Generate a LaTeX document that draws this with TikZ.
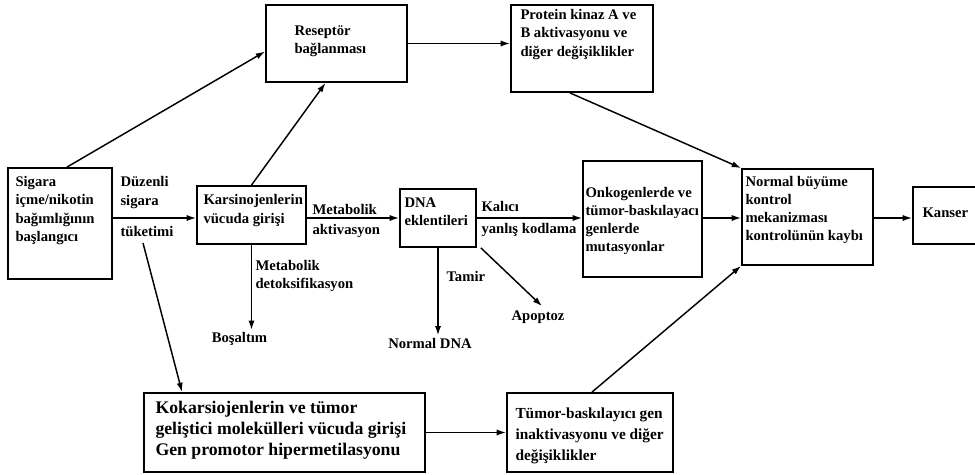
\documentclass[tikz,border=0pt]{standalone}
\usepackage{fontspec}
\setmainfont{Liberation Serif}
\usetikzlibrary{arrows.meta}

\tikzset{every picture/.style={line width=0.75pt}}
\tikzset{
  box/.style={draw, line width=1.4pt, inner sep=0pt},
  txt/.style={inner sep=0pt, align=left, font=\bfseries\fontsize{11pt}{13.6pt}\selectfont},
  bigtxt/.style={inner sep=0pt, align=left, font=\bfseries\fontsize{13.3pt}{15.6pt}\selectfont},
  midtxt/.style={inner sep=0pt, align=left, font=\bfseries\fontsize{11.5pt}{15.8pt}\selectfont},
  arr/.style={line width=1.1pt, -{Latex[length=7pt,width=4.6pt]}}
}

\begin{document}
\begin{tikzpicture}[x=0.75pt,y=0.75pt,yscale=-1,xscale=1]
\useasboundingbox (0,0) rectangle (975,475);

%Shape: Rectangle
\node [box, minimum width=78pt, minimum height=83.25pt] (sig) at (60,223.5) {};
%Shape: Rectangle
\node [box, minimum width=105.75pt, minimum height=57.75pt] (resep) at (336.5,43.5) {};
%Shape: Rectangle
\node [box, minimum width=106.5pt, minimum height=65.25pt] (prot) at (582,48.5) {};
%Shape: Rectangle
\node [box, minimum width=81.75pt, minimum height=43.5pt] (kars) at (251.5,215) {};
%Shape: Rectangle
\node [box, minimum width=57pt, minimum height=43.5pt] (dna) at (438,218) {};
%Shape: Rectangle
\node [box, minimum width=89.25pt, minimum height=87pt] (onk) at (642.5,219) {};
%Shape: Rectangle
\node [box, minimum width=98.25pt, minimum height=72pt] (norm) at (807.5,217) {};
%Shape: Rectangle
\node [box, minimum width=52.5pt, minimum height=42.75pt] (kan) at (948,215.5) {};
%Shape: Rectangle
\node [box, minimum width=210.75pt, minimum height=59.25pt] (koka) at (284.5,432.5) {};
%Shape: Rectangle
\node [box, minimum width=124.5pt, minimum height=59.25pt] (tum) at (590,432.5) {};

% Text Node
\node [txt, anchor=west] (sigT) at (15,210.5) {Sigara\\içme/nikotin\\bağımlığının\\başlangıcı};
% Text Node
\node [txt, anchor=west] (duz) at (120,192.5) {Düzenli\\sigara};
% Text Node
\node [txt, anchor=west] (tuk) at (120,231) {tüketimi};
% Text Node
\node [txt, anchor=west] (karsT) at (203,210.5) {Karsinojenlerin\\vücuda girişi};
% Text Node
\node [txt, anchor=west] (metA) at (312,209) {Metabolik};
% Text Node
\node [txt, anchor=west] (metB) at (312,231) {aktivasyon};
% Text Node
\node [txt, anchor=west] (dnaT) at (404,212) {DNA\\eklentileri};
% Text Node
\node [txt, anchor=west] (kal) at (481,206) {Kalıcı};
% Text Node
\node [txt, anchor=west] (yan) at (481,230) {yanlış kodlama};
% Text Node
\node [txt, anchor=west] (onkT) at (585,221) {Onkogenlerde ve\\tümor-baskılayacı\\genlerde\\mutasyonlar};
% Text Node
\node [txt, anchor=west] (normT) at (745,210) {Normal büyüme\\kontrol\\mekanizması\\kontrolünün kaybı};
% Text Node
\node [txt, anchor=west] (kanT) at (922,213) {Kanser};
% Text Node
\node [txt, anchor=west] (resepT) at (294,41) {Reseptör\\bağlanması};
% Text Node
\node [txt, anchor=west] (protT) at (520,34.5) {Protein kinaz A ve\\B aktivasyonu ve\\diğer değişiklikler};
% Text Node
\node [txt, anchor=west] (detox) at (255,276) {Metabolik\\detoksifikasyon};
% Text Node
\node [txt] (bos) at (239.5,339) {Boşaltım};
% Text Node
\node [txt, anchor=west] (tamir) at (446,276) {Tamir};
% Text Node
\node [txt] (ndna) at (430,343) {Normal DNA};
% Text Node
\node [txt] (apop) at (538,317) {Apoptoz};
% Text Node
\node [bigtxt, anchor=west] (kokaT) at (155,430) {Kokarsiojenlerin ve tümor\\geliştici molekülleri vücuda girişi\\Gen promotor hipermetilasyonu};
% Text Node
\node [midtxt, anchor=west] (tumT) at (515,436) {Tümor-baskılayıcı gen\\inaktivasyonu ve diğer\\değişiklikler};

\coordinate (tk) at (143,243);

%Straight Lines
\draw [arr] ([shift={(7,0)}]sig.north) -- ([shift={(0,8)}]resep.west);
%Straight Lines
\draw [arr] (kars.north) -- ([shift={(-11,0)}]resep.south);
%Straight Lines
\draw [arr] (resep.east) -- (prot.west |- resep.east);
%Straight Lines
\draw [arr] ([shift={(-12,0)}]prot.south) -- (norm.north west);
%Straight Lines
\draw [arr] (sig.east |- dna) -- (kars.west |- dna);
%Straight Lines
\draw [arr] (kars.east |- dna) -- (dna.west);
%Straight Lines
\draw [arr] (dna.east) -- (onk.west |- dna);
%Straight Lines
\draw [arr] (onk.east |- dna) -- (norm.west |- dna);
%Straight Lines
\draw [arr] (norm.east |- dna) -- (kan.west |- dna);
%Straight Lines
\draw [arr] (kars.south) -- ([yshift=-1.5pt]kars.south |- bos.north);
%Straight Lines
\draw [arr] (dna.south) -- ([yshift=-1.5pt]dna.south |- ndna.north);
%Straight Lines
\draw [arr] ([shift={(4,0)}]dna.south east) -- ([shift={(4,-4)}]apop.north);
%Straight Lines
\draw [arr] (tk) -- ([shift={(39,0)}]koka.north west);
%Straight Lines
\draw [arr] (koka.east) -- (tum.west |- koka.east);
%Straight Lines
\draw [arr] ([shift={(2,0)}]tum.north) -- (norm.south west);

\end{tikzpicture}
\end{document}
